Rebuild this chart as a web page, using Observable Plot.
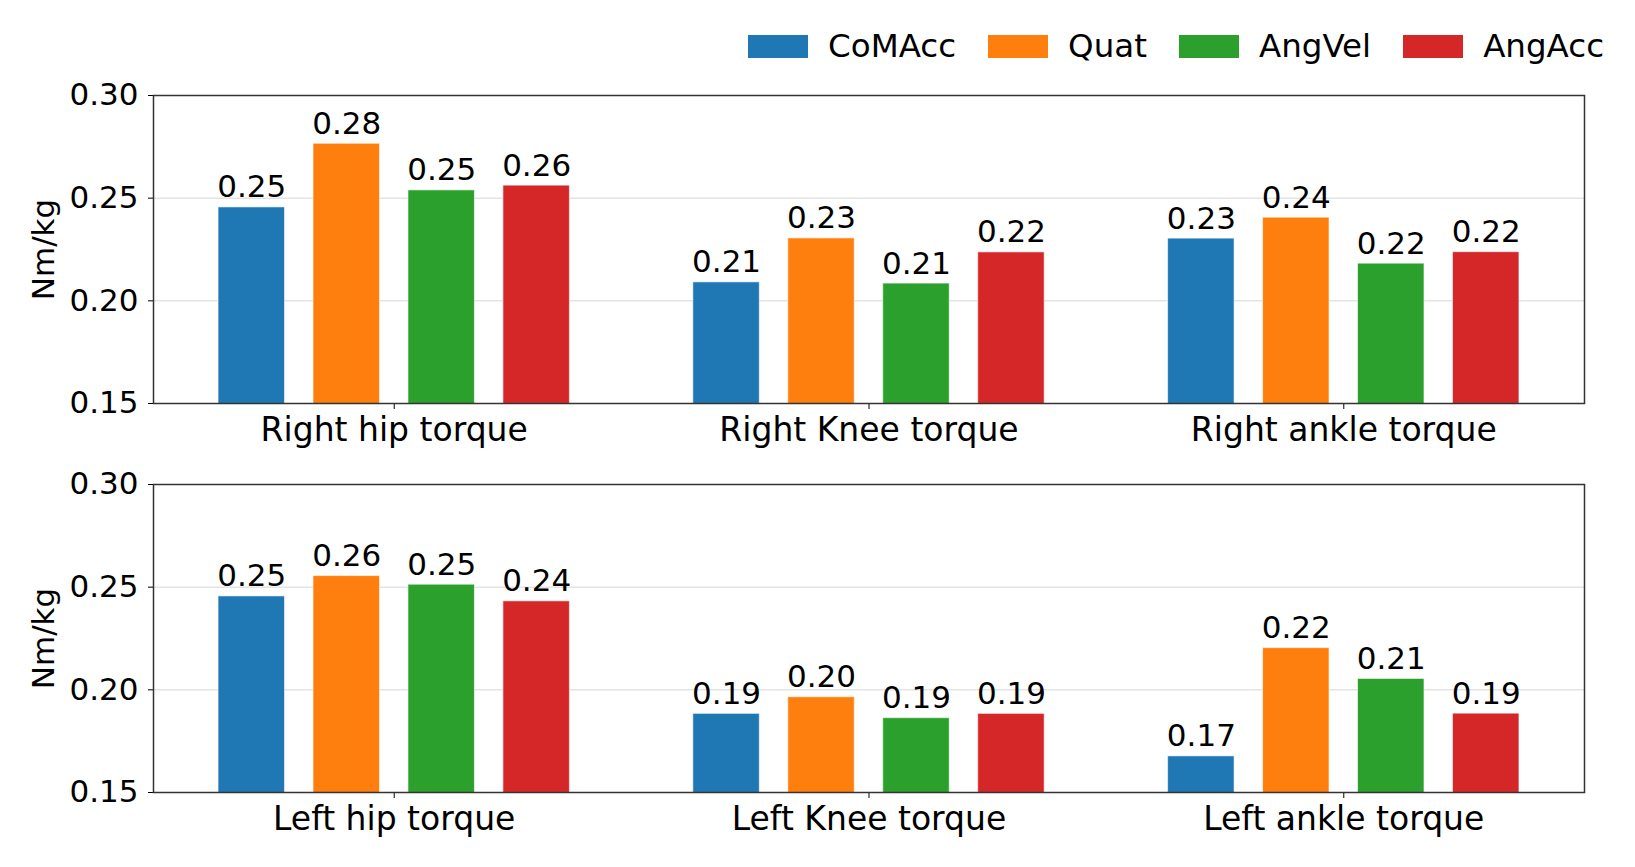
<!DOCTYPE html>
<html>
<head>
<meta charset="utf-8">
<script src="https://cdn.jsdelivr.net/npm/d3@7"></script>
<script src="https://cdn.jsdelivr.net/npm/@observablehq/plot@0.6"></script>
<style>
  html, body { margin: 0; padding: 0; background: #fff; }
  body { width: 1635px; height: 867px; overflow: hidden; font-family: "DejaVu Sans", sans-serif; color: #000; }
  #legend { height: 80px; box-sizing: border-box; padding-top: 12px; padding-right: 31px;
            display: flex; justify-content: flex-end; align-items: center; }
  #legend > * { margin: 0 !important; }
  .lg-swatches { font-family: "DejaVu Sans", sans-serif !important; font-size: 32.5px !important; margin: 0 !important; }
  .lg-swatch { margin-right: 32px !important; }
  .lg-swatch:last-child { margin-right: 0 !important; }
  .lg-swatch > svg { margin-right: 20px !important; }
  svg.panel { display: block; }
</style>
</head>
<body>
<div id="legend"></div>
<div id="top"></div>
<div id="bottom"></div>
<script>
// Joints shown in each panel
const rightJoints = ["Right hip torque", "Right Knee torque", "Right ankle torque"];
const leftJoints  = ["Left hip torque", "Left Knee torque", "Left ankle torque"];

// Input representations (series) and their colours
const methods = ["CoMAcc", "Quat", "AngVel", "AngAcc"];
const colors  = ["#1f77b4", "#ff7f0e", "#2ca02c", "#d62728"];

// Mean joint torque error (Nm/kg), order: R hip, R knee, R ankle, L hip, L knee, L ankle
const comAcc = [0.2455, 0.2090, 0.2303, 0.2455, 0.1883, 0.1676];
const quat   = [0.2765, 0.2304, 0.2405, 0.2554, 0.1964, 0.2203];
const angVel = [0.2538, 0.2084, 0.2181, 0.2512, 0.1862, 0.2053];
const angAcc = [0.2561, 0.2236, 0.2237, 0.2431, 0.1883, 0.1884];

// y-axis ticks
const yTicks = [0.15, 0.20, 0.25, 0.30];

const series = [comAcc, quat, angVel, angAcc];

// grouped-bar layout (in group units)
const STEP = 0.2, BAR = 0.14;
const center = d => d.gi + (d.mi - (methods.length - 1) / 2) * STEP;

function panel(joints, offset, height, marginTop, marginBottom) {
  const rows = [];
  joints.forEach((joint, gi) =>
    methods.forEach((method, mi) =>
      rows.push({gi, mi, joint, method, value: series[mi][offset + gi]})));

  return Plot.plot({
    width: 1635,
    height,
    marginLeft: 153,
    marginRight: 51,
    marginTop,
    marginBottom,
    className: "panel",
    style: {fontFamily: "DejaVu Sans", fontSize: "31px", color: "#000", background: "#fff", overflow: "visible"},
    x: {type: "linear", domain: [-0.507, 2.507]},
    y: {domain: [0.15, 0.30]},
    color: {domain: methods, range: colors},
    marks: [
      Plot.gridY(yTicks.slice(1, -1), {stroke: "#e3e3e3", strokeOpacity: 1, strokeWidth: 1.5}),
      Plot.rect(rows, {
        x1: d => center(d) - BAR / 2,
        x2: d => center(d) + BAR / 2,
        y1: () => 0,
        y2: "value",
        fill: "method",
        stroke: "#fff",
        strokeOpacity: 0.6,
        strokeWidth: 1,
        clip: true
      }),
      Plot.text(rows, {
        x: center,
        y: "value",
        text: d => d.value.toFixed(2),
        lineAnchor: "bottom",
        dy: -10,
        fontSize: 31,
        fill: "#000"
      }),
      Plot.axisY({
        ticks: yTicks,
        tickFormat: d => d.toFixed(2),
        tickSize: 5,
        tickPadding: 10,
        fontSize: 31,
        label: "Nm/kg",
        labelAnchor: "center",
        labelArrow: "none",
        labelOffset: 122
      }),
      Plot.axisX({
        ticks: joints.map((_, i) => i),
        tickFormat: i => joints[i],
        tickSize: 6,
        tickPadding: 8,
        fontSize: 33,
        label: null
      }),
      Plot.frame({stroke: "#333", strokeWidth: 1.5})
    ]
  });
}

document.getElementById("legend").appendChild(
  Plot.legend({
    color: {type: "ordinal", domain: methods, range: colors},
    swatchWidth: 60,
    swatchHeight: 23,
    className: "lg"
  })
);
document.getElementById("top").appendChild(panel(rightJoints, 0, 390, 15, 67));
document.getElementById("bottom").appendChild(panel(leftJoints, 3, 397, 14, 75));
</script>
</body>
</html>
